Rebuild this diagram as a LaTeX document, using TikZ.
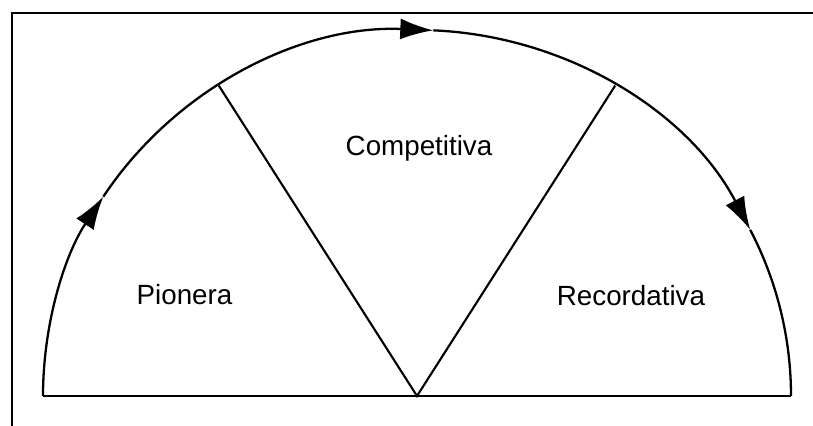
\documentclass[tikz,border=0pt]{standalone}
\usepackage{fontspec}
\setmainfont{Liberation Sans}
\usetikzlibrary{arrows.meta}
\tikzset{every picture/.style={line width=1.3pt}}
\tikzset{etapa/.style={font=\fontsize{15.8}{19}\selectfont, anchor=base},
  flecha/.style={-{Latex[length=6.6mm,width=4.2mm]}}}

\begin{document}
\begin{tikzpicture}
    \useasboundingbox (-8.34,-0.6) rectangle (7.92,7.92);
    % 绘制边框
    \draw (-8.1,-0.6) -- (-8.1,7.66) -- (7.92,7.66);

    % 绘制中心和分界点
    \coordinate (O) at (0,0);
    \coordinate (A) at (-7.48,0);
    \coordinate (B) at (7.48,0);
    \coordinate (P1) at ({7.48*cos(122)},{7.32*sin(122)});
    \coordinate (P2) at ({7.48*cos(58)},{7.32*sin(58)});
    \coordinate (F1) at ({7.48*cos(147)},{7.32*sin(147)});
    \coordinate (F2) at ({7.48*cos(87.5)},{7.32*sin(87.5)});
    \coordinate (F3) at ({7.48*cos(27)},{7.32*sin(27)});

    % 绘制半圆及箭头
    \draw[flecha] (A) arc[start angle=180, end angle=147, x radius=7.48, y radius=7.32];
    \draw[flecha] (F1) arc[start angle=147, end angle=87.5, x radius=7.48, y radius=7.32];
    \draw[flecha] (F2) arc[start angle=87.5, end angle=27, x radius=7.48, y radius=7.32];
    \draw (F3) arc[start angle=27, end angle=0, x radius=7.48, y radius=7.32];
    \draw (A) -- (B);

    % 绘制分区线
    \draw[line width=1.2pt] (P1) -- (O) -- (P2);

    % 标注
    \node[etapa] (pionera) at (-4.65,1.82) {Pionera};
    \node[etapa] (competitiva) at (0.04,4.8) {Competitiva};
    \node[etapa] (recordativa) at (4.28,1.8) {Recordativa};
\end{tikzpicture}
\end{document}
